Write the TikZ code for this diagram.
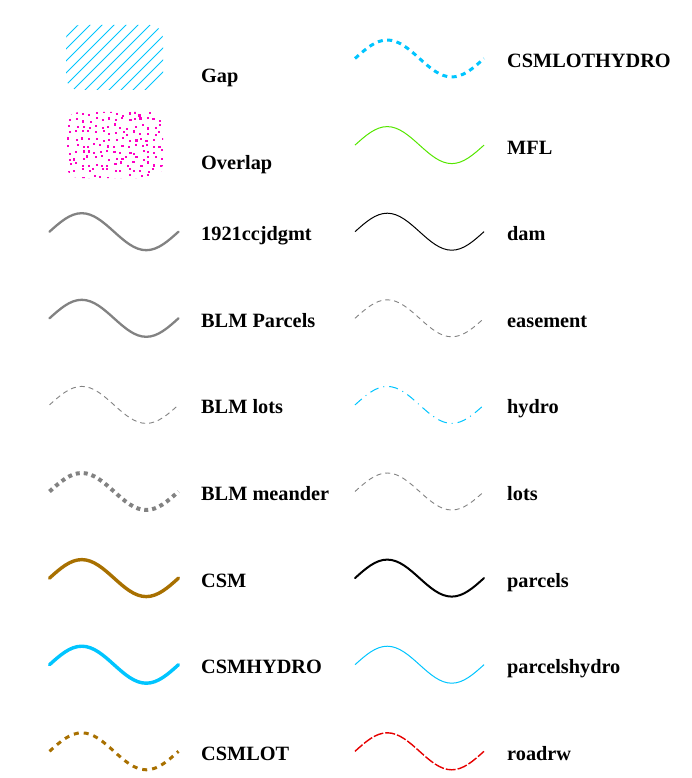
\documentclass[tikz,border=0pt]{standalone}
\usepackage{fontspec}
\setmainfont{Liberation Serif}
\definecolor{cyanL}{HTML}{00C5FF}
\definecolor{brownL}{HTML}{A87000}
\definecolor{grayL}{HTML}{828282}
\definecolor{greenL}{HTML}{55E600}
\definecolor{redL}{HTML}{E60000}
\definecolor{magL}{HTML}{FF00C5}
\newcommand\wavepath[2]{(#1,#2) sin ++(32.25,-18.5) cos ++(32.25,18.5) sin ++(32.25,18.5) cos ++(32.25,-18.5)}
\tikzset{
  lbl/.style={anchor=base west,inner sep=0pt,font=\fontsize{20.3}{24}\selectfont\bfseries},
  wv/.style={line cap=butt,line join=round},
  grayThick/.style={wv,draw=grayL,line width=2.3pt,line cap=round},
  grayDash/.style={wv,draw=grayL,line width=0.9pt,dash pattern=on 5pt off 4pt},
  grayDot/.style={wv,draw=grayL,line width=4pt,dash pattern=on 4pt off 4pt},
  brownThick/.style={wv,draw=brownL,line width=3.4pt,line cap=round},
  cyanThick/.style={wv,draw=cyanL,line width=3.4pt,line cap=round},
  brownDash/.style={wv,draw=brownL,line width=3pt,dash pattern=on 5pt off 5pt},
  cyanDash/.style={wv,draw=cyanL,line width=3pt,dash pattern=on 5pt off 4.5pt},
  greenThin/.style={wv,draw=greenL,line width=1pt},
  blackThin/.style={wv,draw=black,line width=1pt},
  blackMed/.style={wv,draw=black,line width=2pt,line cap=round},
  cyanThin/.style={wv,draw=cyanL,line width=1pt},
  cyanDashDot/.style={wv,draw=cyanL,line width=1pt,dash pattern=on 9pt off 5pt on 1pt off 5pt},
  redDash/.style={wv,draw=redL,line width=1.4pt,dash pattern=on 10pt off 2pt},
}
\begin{document}
\begin{tikzpicture}[x=1pt,y=-1pt]
\useasboundingbox (0,0) rectangle (691,778);
% Gap hatch
\begin{scope}
  \clip[rounded corners=13pt] (66,25) rectangle (163,90);
  \foreach \k in {0,...,18}{
    \draw[cyanL,line width=0.9pt] (66+12*\k-70,95) -- ++(80,-80);
  }
\end{scope}
\node[lbl] (gap) at (201,83) {Gap};
% Overlap dots
\begin{scope}
  \clip[rounded corners=13pt] (66,112) rectangle (163,178);
  \pgfmathsetseed{11}
  \foreach \i in {0,...,14}{
    \foreach \j in {0,...,10}{
      \pgfmathsetmacro\px{68+6.6*\i+2.2*rand}
      \pgfmathsetmacro\py{113+6.3*\j+2.2*rand}
      \fill[magL] (\px,\py) rectangle ++(2.1,2.1);
    }
  }
\end{scope}
\node[lbl] (overlap) at (201,170) {Overlap};
% left column
\draw[grayThick] \wavepath{49.5}{231.7};
\node[lbl] (l2) at (201,240.7) {1921ccjdgmt};
\draw[grayThick] \wavepath{49.5}{318.3};
\node[lbl] (l3) at (201,327.3) {BLM Parcels};
\draw[grayDash] \wavepath{49.5}{404.9};
\node[lbl] (l4) at (201,413.9) {BLM lots};
\draw[grayDot] \wavepath{49.5}{491.5};
\node[lbl] (l5) at (201,500.5) {BLM meander};
\draw[brownThick] \wavepath{49.5}{578.1};
\node[lbl] (l6) at (201,587.1) {CSM};
\draw[cyanThick] \wavepath{49.5}{664.7};
\node[lbl] (l7) at (201,673.7) {CSMHYDRO};
\draw[brownDash] \wavepath{49.5}{751.3};
\node[lbl] (l8) at (201,760.3) {CSMLOT};
% right column
\draw[cyanDash] \wavepath{355}{58.5};
\node[lbl] (r0) at (507,67.5) {CSMLOTHYDRO};
\draw[greenThin] \wavepath{355}{145.1};
\node[lbl] (r1) at (507,154.1) {MFL};
\draw[blackThin] \wavepath{355}{231.7};
\node[lbl] (r2) at (507,240.7) {dam};
\draw[grayDash] \wavepath{355}{318.3};
\node[lbl] (r3) at (507,327.3) {easement};
\draw[cyanDashDot] \wavepath{355}{404.9};
\node[lbl] (r4) at (507,413.9) {hydro};
\draw[grayDash] \wavepath{355}{491.5};
\node[lbl] (r5) at (507,500.5) {lots};
\draw[blackMed] \wavepath{355}{578.1};
\node[lbl] (r6) at (507,587.1) {parcels};
\draw[cyanThin] \wavepath{355}{664.7};
\node[lbl] (r7) at (507,673.7) {parcelshydro};
\draw[redDash] \wavepath{355}{751.3};
\node[lbl] (r8) at (507,760.3) {roadrw};
\end{tikzpicture}
\end{document}
